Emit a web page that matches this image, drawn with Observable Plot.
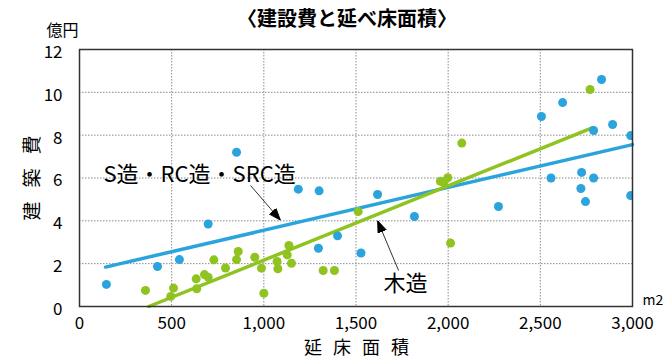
<!DOCTYPE html>
<html>
<head>
<meta charset="utf-8">
<script src="https://cdn.jsdelivr.net/npm/d3@7"></script>
<script src="https://cdn.jsdelivr.net/npm/@observablehq/plot@0.6"></script>
<style>
  body { margin: 0; background: #fff; }
  svg { display: block; }
</style>
</head>
<body>
<div id="chart"></div>
<script>
const font = '"Noto Sans CJK JP", "Noto Sans", sans-serif';

// S造・RC造・SRC造: floor area (m2) and construction cost (億円)
const steelArea = [146, 423, 542, 698, 852, 1187, 1300, 1296, 1400, 1527, 1617, 1817, 2273,
  2506, 2558, 2621, 2724, 2720, 2745, 2789, 2789, 2832, 2892, 2990, 2990];
const steelCost = [1.03, 1.87, 2.19, 3.85, 7.2, 5.48, 5.4, 2.72, 3.3, 2.5, 5.23, 4.2, 4.67,
  8.87, 6.0, 9.52, 6.26, 5.51, 4.9, 6.0, 8.22, 10.6, 8.5, 7.98, 5.18];

// 木造: floor area (m2) and construction cost (億円)
const woodArea = [358, 510, 495, 633, 678, 698, 636, 729, 792, 861, 852, 951, 987, 1000,
  1072, 1076, 1136, 1127, 1150, 1322, 1383, 1512, 1958, 1998, 1976, 2013, 2074, 2770];
const woodCost = [0.75, 0.86, 0.47, 1.29, 1.49, 1.37, 0.83, 2.18, 1.8, 2.57, 2.19, 2.3, 1.79, 0.62,
  2.1, 1.76, 2.85, 2.41, 2.02, 1.68, 1.68, 4.43, 5.85, 6.01, 5.77, 2.96, 7.63, 10.13];

// linear trend lines (end points)
const steelTrendArea = [141, 3000];
const steelTrendCost = [1.84, 7.56];
const woodTrendArea = [376, 2781];
const woodTrendCost = [0, 8.34];

// axes
const xTicks = [0, 500, 1000, 1500, 2000, 2500, 3000];
const yTicks = [0, 2, 4, 6, 8, 10, 12];
const xGrid = [500, 1000, 1500, 2000, 2500];
const yGrid = [2, 4, 6, 8, 10];

// annotations
const steelLabel = "S造・RC造・SRC造";
const woodLabel = "木造";
const steelArrow = [{x1: 928, y1: 5.65, x2: 1090, y2: 4.03}];
const woodArrow = [{x1: 1731, y1: 1.68, x2: 1617, y2: 4.01}];

const blue = "#2BA3DC";
const green = "#8FC320";

// filled triangular arrow head
function arrowHead(color) {
  const m = d3.create("svg:marker")
    .attr("viewBox", "-12 -5 12 10")
    .attr("refX", 0).attr("refY", 0)
    .attr("markerWidth", 12).attr("markerHeight", 10)
    .attr("markerUnits", "userSpaceOnUse")
    .attr("orient", "auto");
  m.append("path").attr("d", "M0,0L-12,-4.5L-12,4.5Z").attr("fill", color);
  return m.node();
}

const chart = Plot.plot({
  width: 669,
  height: 358,
  marginLeft: 79,
  marginRight: 37,
  marginTop: 49,
  marginBottom: 52,
  style: {fontFamily: font, fontSize: "17px", color: "#000", background: "#fff"},
  x: {domain: [0, 3000]},
  y: {domain: [0, 12]},
  marks: [
    Plot.gridX(xGrid, {stroke: "#8a8a8a", strokeOpacity: 1, strokeDasharray: "1.5,1.5"}),
    Plot.gridY(yGrid, {stroke: "#8a8a8a", strokeOpacity: 1, strokeDasharray: "1.5,1.5"}),
    Plot.axisX(xTicks, {tickSize: 0, tickPadding: 10, tickFormat: d3.format(","), fontSize: 17}),
    Plot.axisY(yTicks, {tickSize: 0, tickPadding: 17, fontSize: 17, dy: 3}),
    Plot.line(steelTrendArea, {x: steelTrendArea, y: steelTrendCost, stroke: blue, strokeWidth: 3.5}),
    Plot.line(woodTrendArea, {x: woodTrendArea, y: woodTrendCost, stroke: green, strokeWidth: 3.5}),
    Plot.dot(steelArea, {x: steelArea, y: steelCost, r: 4.5, fill: blue, clip: true}),
    Plot.dot(woodArea, {x: woodArea, y: woodCost, r: 4.5, fill: green, clip: true}),
    Plot.link(steelArrow, {x1: "x1", y1: "y1", x2: "x2", y2: "y2", stroke: "#000", strokeWidth: 0.8, markerEnd: arrowHead}),
    Plot.link(woodArrow, {x1: "x1", y1: "y1", x2: "x2", y2: "y2", stroke: "#000", strokeWidth: 0.8, markerEnd: arrowHead}),
    Plot.text([steelLabel], {x: 130, y: 6.16, text: d => d, textAnchor: "start", fontSize: 22, fill: "#000"}),
    Plot.text([woodLabel], {x: 1769, y: 1.03, text: d => d, fontSize: 22, fill: "#000"}),
    Plot.frame({stroke: "#333", strokeWidth: 1.5}),
    // title and axis titles
    Plot.text(["〈建設費と延べ床面積〉"], {text: d => d, frameAnchor: "top", textAnchor: "middle", lineAnchor: "middle", dx: -9, dy: -30, fontSize: 20, fontWeight: "bold"}),
    Plot.text(["億円"], {text: d => d, frameAnchor: "top-left", textAnchor: "middle", lineAnchor: "middle", dx: -17, dy: -19, fontSize: 16}),
    Plot.text(["建築費"], {text: d => d, frameAnchor: "left", textAnchor: "middle", lineAnchor: "middle", rotate: -90, dx: -47, dy: -7, fontSize: 19}),
    Plot.text(["延床面積"], {text: d => d, frameAnchor: "bottom", textAnchor: "middle", lineAnchor: "middle", dx: 6, dy: 42, fontSize: 18}),
    Plot.text(["m2"], {text: d => d, frameAnchor: "bottom-right", textAnchor: "start", lineAnchor: "middle", dx: 10, dy: -6, fontSize: 14})
  ]
});

// spaced-out axis titles
d3.select(chart).selectAll("text").each(function () {
  const t = this.textContent;
  if (t === "建築費") this.style.letterSpacing = "14px";
  if (t === "延床面積") this.style.letterSpacing = "11px";
});

document.getElementById("chart").append(chart);
</script>
</body>
</html>
